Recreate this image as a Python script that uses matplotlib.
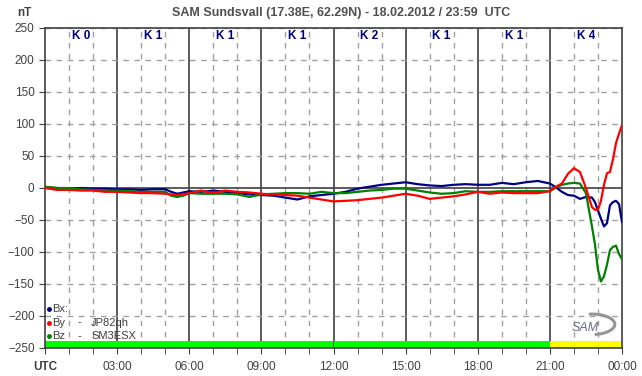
import numpy as np
import matplotlib.pyplot as plt

plt.rcParams['font.family'] = ['Liberation Sans', 'DejaVu Sans']

# hours since 00:00 UTC
hours = [0, 0.5, 1, 1.5, 2, 2.5, 3, 3.5, 4, 4.5, 5, 5.25, 5.5, 5.75, 6, 6.5, 7, 7.5,
         8, 8.5, 9, 9.5, 10, 10.5, 11, 11.5, 12, 12.5, 13, 13.5, 14, 14.5, 15, 15.5,
         16, 16.5, 17, 17.5, 18, 18.5, 19, 19.5, 20, 20.5, 21, 21.25, 21.5, 21.75,
         22, 22.25, 22.5, 22.75, 22.875, 23, 23.125, 23.25, 23.375, 23.5, 23.625,
         23.75, 23.875, 24]

bx = [1, 0, -1, 0, -1, -1, -2, -2, -3, -2, -2, -6, -9, -7, -5, -6, -4, -6,
      -8, -10, -11, -12, -15, -18, -13, -11, -9, -6, -1, 2, 5, 7, 9, 6,
      4, 3, 5, 6, 5, 5, 8, 6, 9, 11, 7, 1, -6, -11,
      -12, -17, -14, -15, -22, -35, -48, -60, -55, -27, -22,
      -20, -25, -53]

by = [0, -3, -3, -4, -4, -6, -6, -7, -8, -8, -9, -10, -11, -10, -8, -4, -8, -4,
      -6, -7, -9, -10, -11, -12, -15, -18, -21, -20, -19, -17, -15, -12, -9, -12,
      -17, -15, -13, -10, -6, -9, -7, -8, -8, -8, -5, 2, 7, 22,
      31, 25, 0, -30, -34, -34, -20, 5, 23, 25, 45,
      70, 85, 98]

bz = [2, 0, 0, -2, -3, -4, -4, -5, -6, -6, -6, -12, -14, -12, -8, -9, -9, -9,
      -10, -14, -10, -9, -8, -8, -9, -6, -8, -8, -6, -4, -3, -1, -1, -4,
      -7, -9, -8, -5, -6, -6, -5, -5, -5, -5, -5, 1, 5, 7,
      8, 7, -8, -60, -88, -128, -146, -138, -120, -97, -92,
      -90, -103, -111]

k_index = [0, 1, 1, 1, 2, 1, 1, 4]
k_colors = ['#00ff00', '#00ff00', '#00ff00', '#00ff00', '#00ff00', '#00ff00', '#00ff00', '#ffff00']
xlabels = ['UTC', '03:00', '06:00', '09:00', '12:00', '15:00', '18:00', '21:00', '00:00']

txt = '#404040'
dark = '#404040'

fig = plt.figure(figsize=(6.42, 3.76), dpi=100)
ax = fig.add_axes([45/642, 28/376, 577/642, 320/376])
ax.set_xlim(0, 24)
ax.set_ylim(-250, 250)

# grid
for h in range(1, 24):
    if h % 3 == 0:
        ax.axvline(h, color=dark, lw=1.2, zorder=1)
    else:
        ax.axvline(h, color='#a0a0a0', lw=1, ls=(0, (4, 4)), zorder=1)
for v in range(-200, 251, 50):
    if v == 0:
        ax.axhline(0, color=dark, lw=1.2, zorder=1)
    else:
        ax.axhline(v, color='#a0a0a0', lw=1, ls=(0, (4, 4)), zorder=1)

# K index bar and labels
for i, k in enumerate(k_index):
    ax.bar(i*3, 11, width=3, bottom=-250, align='edge', color=k_colors[i], zorder=2)
    ax.text(i*3 + 1.5, 237, 'K %d' % k, ha='center', va='center', fontsize=8.5,
            fontweight='bold', color='#000080', zorder=3)

ax.plot(hours, bx, color='#000080', lw=1.6, zorder=4)
ax.plot(hours, bz, color='#008000', lw=1.6, zorder=5)
ax.plot(hours, by, color='#ff0000', lw=1.6, zorder=6)

ax.set_yticks(range(-250, 251, 50))
ax.set_xticks(range(0, 25, 3))
ax.set_xticklabels(xlabels)
ax.set_xticks(range(0, 25), minor=True)
ax.tick_params(axis='both', colors=dark, labelcolor=txt, labelsize=8.5, direction='out', length=4)
ax.tick_params(axis='x', which='minor', colors=dark, length=4)
ax.tick_params(axis='x', pad=5)
ax.get_xticklabels()[0].set_fontweight('bold')
for s in ax.spines.values():
    s.set_color(dark)
    s.set_linewidth(1.2)

# legend
legend_rows = [('Bx:', '', ''), ('By', '-', 'JP82qh'), ('Bz', '-', 'SM3ESX')]
legend_cols = ['#000080', '#ff0000', '#008000']
for i, (a, b, c) in enumerate(legend_rows):
    yy = 309 + i*13.5
    fy = 1 - (yy - 28) / 320
    ax.plot([4/577], [fy], marker='o', ms=2.5, color=legend_cols[i], transform=ax.transAxes, zorder=7)
    ax.text(7/577, fy, a, transform=ax.transAxes, fontsize=8, color=txt, va='center')
    ax.text(33/577, fy, b, transform=ax.transAxes, fontsize=8, color=txt, va='center')
    ax.text(46/577, fy, c, transform=ax.transAxes, fontsize=8, color=txt, va='center')

# SAM logo
ax.text(22.45, -218, 'SAM', fontsize=9, style='italic', color='#6a6a88', ha='center', va='center', zorder=3)
t = np.radians(np.linspace(-80, 95, 60))
ax.plot(22.75 + 0.95*np.cos(t), -213 + 16*np.sin(t), color='#959595', lw=2.2, zorder=3,
        solid_capstyle='round')

fig.text(17/642, 1 - 13/376, 'nT', fontsize=8.5, fontweight='bold', color=txt, va='center')
fig.text(341/642, 1 - 13/376, 'SAM Sundsvall (17.38E, 62.29N) - 18.02.2012 / 23:59  UTC',
         fontsize=9, fontweight='bold', color='#505050', ha='center', va='center')

fig.savefig('out.png', dpi=100)
